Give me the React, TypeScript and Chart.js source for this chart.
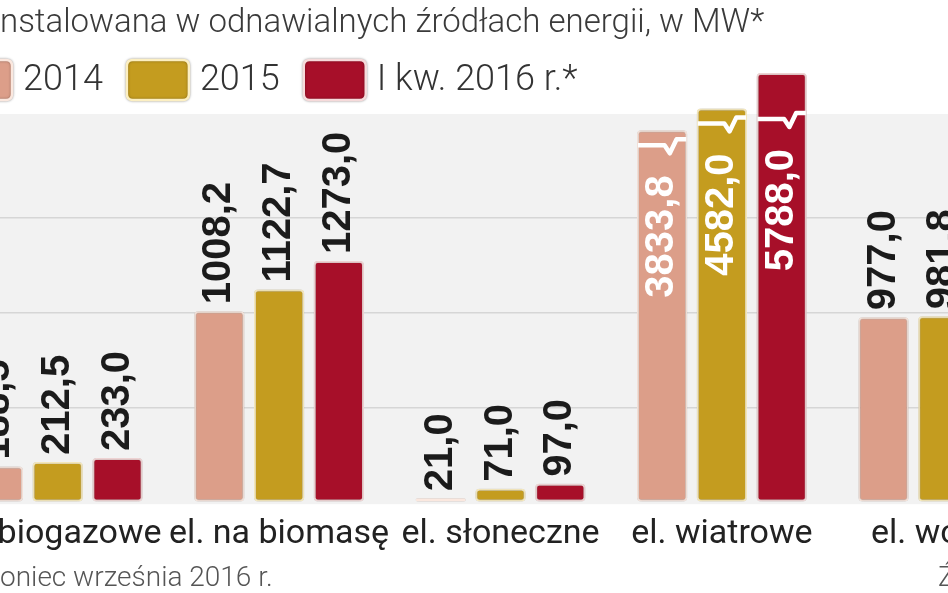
import React, { useEffect, useRef } from 'react';
import { Chart, registerables, LinearScale } from 'chart.js';

Chart.register(...registerables);

// ---------- data ----------
const categories = ['el. biogazowe', 'el. na biomasę', 'el. słoneczne', 'el. wiatrowe', 'el. wodne'];
const seriesLabels = ['2014', '2015', 'I kw. 2016 r.*'];
const values2014 = [188.5, 1008.2, 21.0, 3833.8, 977.0];
const values2015 = [212.5, 1122.7, 71.0, 4582.0, 981.8];
const values2016 = [233.0, 1273.0, 97.0, 5788.0, 993.0];
const gridTicks = [0, 500, 1000, 1500];
const titleText = 'nstalowana w odnawialnych źródłach energii, w MW*';
const footnoteText = 'oniec września 2016 r.';
const sourceText = 'Źródło: URE';

// ---------- styles / layout ----------
const fillColors = ['#dc9e89', '#c49c1f', '#a70f29'];
const borderColors = ['#fbe8df', '#fcefc2', '#f6dada'];
const VIEW_W = 948;
const VIEW_H = 593;
const OFF = 53; // canvas shifted left so the view shows a crop
const CANVAS_W = 1107;
const BAND_TOP = 114;
const BREAK_AT = 1620;
const BREAK_RATIO = 0.155;
const Y_MAX = 6230;

function squash(v: number) {
  return v <= BREAK_AT ? v : BREAK_AT + (v - BREAK_AT) * BREAK_RATIO;
}
function unsquash(d: number) {
  return d <= BREAK_AT ? d : BREAK_AT + (d - BREAK_AT) / BREAK_RATIO;
}

class BrokenLinearScale extends LinearScale {
  static id = 'brokenLinear';
  getPixelForValue(value: any) {
    if (value === null || value === undefined || Number.isNaN(+value)) return NaN;
    const lo = squash(this.min);
    const hi = squash(this.max);
    return this.getPixelForDecimal((squash(+value) - lo) / (hi - lo));
  }
  getValueForPixel(pixel: number) {
    const lo = squash(this.min);
    const hi = squash(this.max);
    return unsquash(lo + this.getDecimalForPixel(pixel) * (hi - lo));
  }
}
Chart.register(BrokenLinearScale as any);

const fmt = (v: number) => v.toFixed(1).replace('.', ',');

function roundRect(ctx: CanvasRenderingContext2D, x: number, y: number, w: number, h: number, r: number) {
  ctx.beginPath();
  ctx.moveTo(x + r, y);
  ctx.lineTo(x + w - r, y);
  ctx.quadraticCurveTo(x + w, y, x + w, y + r);
  ctx.lineTo(x + w, y + h - r);
  ctx.quadraticCurveTo(x + w, y + h, x + w - r, y + h);
  ctx.lineTo(x + r, y + h);
  ctx.quadraticCurveTo(x, y + h, x, y + h - r);
  ctx.lineTo(x, y + r);
  ctx.quadraticCurveTo(x, y, x + r, y);
  ctx.closePath();
}

const bandPlugin = {
  id: 'bandBg',
  beforeDraw(chart: any) {
    const { ctx, chartArea } = chart;
    ctx.save();
    ctx.fillStyle = '#ffffff';
    ctx.fillRect(0, 0, chart.width, chart.height);
    ctx.fillStyle = '#f2f2f2';
    ctx.fillRect(0, BAND_TOP, chart.width, chartArea.bottom + 2 - BAND_TOP);
    ctx.restore();
  },
};

const shadowPlugin = {
  id: 'barShadow',
  beforeDatasetsDraw(chart: any) {
    const ctx = chart.ctx;
    ctx.save();
    ctx.shadowColor = 'rgba(0,0,0,0.35)';
    ctx.shadowBlur = 2.5;
  },
  afterDatasetsDraw(chart: any) {
    chart.ctx.restore();
  },
};

const labelPlugin = {
  id: 'valueLabels',
  afterDatasetsDraw(chart: any) {
    const ctx = chart.ctx as CanvasRenderingContext2D;
    chart.data.datasets.forEach((ds: any, di: number) => {
      const meta = chart.getDatasetMeta(di);
      meta.data.forEach((bar: any, i: number) => {
        const v = ds.data[i] as number;
        const { x, y, width } = bar.getProps(['x', 'y', 'width'], true);
        ctx.save();
        ctx.font = 'bold 40px "Liberation Sans", Arial, sans-serif';
        ctx.textBaseline = 'middle';
        if (v > BREAK_AT) {
          const by = Math.max(y + 15, BAND_TOP + 5);
          const l = x - width / 2 + 1;
          const r = x + width / 2 - 1;
          const w = r - l;
          ctx.strokeStyle = '#ffffff';
          ctx.lineWidth = 4.5;
          ctx.lineJoin = 'round';
          ctx.beginPath();
          ctx.moveTo(l, by);
          ctx.lineTo(l + w * 0.55, by);
          ctx.lineTo(l + w * 0.66, by + 8);
          ctx.lineTo(l + w * 0.8, by - 6);
          ctx.lineTo(r, by - 6);
          ctx.stroke();
          ctx.translate(x, by + 30);
          ctx.rotate(-Math.PI / 2);
          ctx.textAlign = 'right';
          ctx.fillStyle = '#ffffff';
          ctx.fillText(fmt(v), 0, 0);
        } else {
          ctx.translate(x, y - 7);
          ctx.rotate(-Math.PI / 2);
          ctx.textAlign = 'left';
          ctx.fillStyle = '#1b1b1b';
          ctx.fillText(fmt(v), 0, 0);
        }
        ctx.restore();
      });
    });
  },
};

const textPlugin = {
  id: 'texts',
  afterDraw(chart: any) {
    const ctx = chart.ctx as CanvasRenderingContext2D;
    ctx.save();
    // title
    ctx.font = '300 33px Roboto, "Liberation Sans", sans-serif';
    ctx.fillStyle = '#3a3a3a';
    ctx.textAlign = 'left';
    ctx.textBaseline = 'alphabetic';
    ctx.fillText(titleText, OFF + 0, 32);
    // legend
    ctx.font = '300 36px Roboto, "Liberation Sans", sans-serif';
    ctx.textBaseline = 'middle';
    let px = OFF - 50;
    const boxW = 62, boxH = 40, boxY = 60;
    chart.data.datasets.forEach((ds: any) => {
      ctx.save();
      ctx.shadowColor = 'rgba(0,0,0,0.35)';
      ctx.shadowBlur = 2.5;
      roundRect(ctx, px, boxY, boxW, boxH, 6);
      ctx.fillStyle = ds.backgroundColor;
      ctx.fill();
      ctx.lineWidth = 2.5;
      ctx.strokeStyle = ds.borderColor;
      ctx.stroke();
      ctx.restore();
      const tx = px + boxW + 11;
      ctx.fillStyle = '#333333';
      ctx.fillText(ds.label, tx, boxY + boxH / 2 + 1);
      px = tx + ctx.measureText(ds.label).width + 24;
    });
    // footer
    ctx.font = '300 28px Roboto, "Liberation Sans", sans-serif';
    ctx.textBaseline = 'alphabetic';
    ctx.fillStyle = '#555555';
    ctx.fillText(footnoteText, OFF + 0, 586);
    ctx.fillText(sourceText, OFF + 938, 586);
    ctx.restore();
  },
};

export default function App() {
  const ref = useRef<HTMLCanvasElement | null>(null);

  useEffect(() => {
    if (!ref.current) return;
    const series = [values2014, values2015, values2016];
    const chart = new Chart(ref.current, {
      type: 'bar',
      data: {
        labels: categories,
        datasets: series.map((vals, i) => ({
          label: seriesLabels[i],
          data: vals,
          backgroundColor: fillColors[i],
          borderColor: borderColors[i],
          borderWidth: 2,
          borderRadius: 4,
          borderSkipped: false,
          categoryPercentage: 0.81,
          barPercentage: 0.84,
        })),
      },
      options: {
        responsive: false,
        animation: false,
        devicePixelRatio: 1,
        layout: { padding: { top: 60, bottom: 26, left: 0, right: 0 } },
        plugins: {
          legend: { display: false },
          title: { display: false },
          tooltip: { enabled: false },
        },
        scales: {
          x: {
            offset: true,
            grid: { display: false, drawTicks: false },
            border: { display: false },
            afterFit: (scale: any) => {
              scale.paddingLeft = 0;
              scale.paddingRight = 0;
            },
            ticks: {
              color: '#222222',
              padding: 12,
              maxRotation: 0,
              autoSkip: false,
              font: { family: 'Roboto, "Liberation Sans", sans-serif', size: 34 },
            },
          },
          y: {
            type: 'brokenLinear' as any,
            min: 0,
            max: Y_MAX,
            afterBuildTicks: (scale: any) => {
              scale.ticks = gridTicks.map((v) => ({ value: v }));
            },
            grid: {
              drawTicks: false,
              lineWidth: 1.5,
              color: (c: any) => (c.tick && c.tick.value === 0 ? 'rgba(0,0,0,0)' : '#d6d6d6'),
            },
            border: { display: false },
            ticks: { display: false },
          },
        },
      },
      plugins: [bandPlugin, shadowPlugin, labelPlugin, textPlugin],
    } as any);
    return () => chart.destroy();
  }, []);

  return (
    <div
      style={{
        position: 'fixed',
        left: 0,
        top: 0,
        width: VIEW_W,
        height: VIEW_H,
        overflow: 'hidden',
        background: '#ffffff',
      }}
    >
      <canvas
        ref={ref}
        width={CANVAS_W}
        height={VIEW_H}
        style={{ position: 'absolute', left: -OFF, top: 0, width: CANVAS_W, height: VIEW_H }}
      />
    </div>
  );
}
